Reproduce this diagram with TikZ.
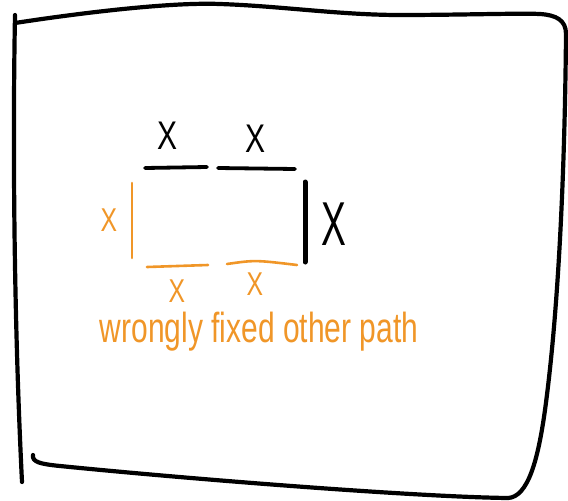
\documentclass[tikz,border=0pt]{standalone}
\usepackage{fontspec}
\setmainfont{Liberation Sans}
\usepackage{xcolor}
\usepackage{tikz}
\usetikzlibrary{positioning}

\definecolor{inkorange}{RGB}{240,150,40}

\begin{document}
\begin{tikzpicture}[
  x=1pt, y=-1pt,
  frameline/.style={line width=4.2pt, line cap=round, line join=round},
  blackpen/.style={line width=3.8pt, line cap=round},
  orangepen/.style={line width=2.6pt, line cap=round, draw=inkorange},
  xlab/.style={font=\fontsize{40}{40}\selectfont, inner sep=0pt},
  oxlab/.style={font=\fontsize{33}{33}\selectfont, inner sep=0pt, text=inkorange},
  note/.style={font=\fontsize{30}{30}\selectfont, inner sep=0pt, text=inkorange}
]
  \useasboundingbox (0,0) rectangle (568,501);

  % outer frame
  \draw[frameline] (15,15) .. controls (13,120) and (13,300) .. (22,482);
  \draw[frameline] (15,23) .. controls (80,13) and (170,2) .. (220,4)
    .. controls (280,6) and (340,15) .. (400,15)
    .. controls (460,15) and (520,13) .. (540,14)
    .. controls (556,15) and (566,20) .. (566,34)
    .. controls (565,150) and (560,300) .. (545,410)
    .. controls (538,460) and (528,497) .. (508,498)
    .. controls (420,497) and (200,480) .. (60,466)
    .. controls (40,464) and (32,462) .. (33,455);

  % black sides
  \draw[blackpen] (145,168) -- (207,167);
  \draw[blackpen] (218,168) -- (295,169);
  \draw[blackpen, line width=5pt] (305,182) -- (305,262);

  % orange sides
  \draw[orangepen] (132,183) -- (132,258);
  \draw[orangepen] (147,267) -- (208,265);
  \draw[orangepen] (227,264) .. controls (255,260) .. (297,265);

  % labels
  \node[xlab] (xtopa) at (168,136) {\scalebox{0.75}[1]{X}};
  \node[xlab] (xtopb) at (256,139) {\scalebox{0.75}[1]{X}};
  \node[xlab, font=\fontsize{62}{62}\selectfont] (xright) at (334,224) {\scalebox{0.6}[1]{X}};
  \node[oxlab] (xleft) at (109,220) {\scalebox{0.75}[1]{X}};
  \node[oxlab] (xbota) at (177,291) {\scalebox{0.75}[1]{X}};
  \node[oxlab] (xbotb) at (255,284) {\scalebox{0.75}[1]{X}};

  \node[note, anchor=base] (fixnote) at (259,342)
    {\scalebox{1}[1.4]{wrongly fixed other path}};
\end{tikzpicture}
\end{document}
